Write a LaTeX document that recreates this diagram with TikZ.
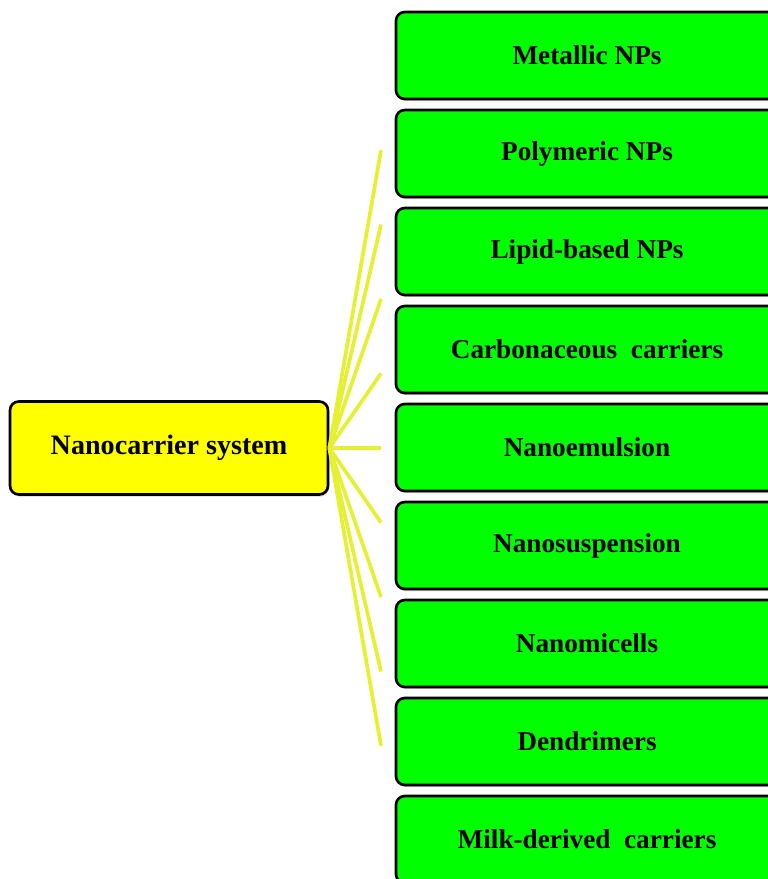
\documentclass[tikz,border=0pt]{standalone}
\usepackage{fontspec}
\setmainfont{Liberation Serif}
\usetikzlibrary{shadows}
\definecolor{boxgreen}{HTML}{00FF00}
\definecolor{boxyellow}{HTML}{FFFF00}
\definecolor{linkyellow}{HTML}{E6F032}
\tikzset{
  root/.style={rounded corners=5pt,draw=black,line width=1.5pt,fill=boxyellow,minimum width=6.36cm,minimum height=1.86cm,font=\bfseries\fontsize{16}{19}\selectfont,drop shadow={shadow xshift=0.6pt,shadow yshift=-1.2pt,opacity=0.35}},
  kind/.style={rounded corners=5pt,draw=black,line width=1.5pt,fill=boxgreen,minimum width=7.64cm,minimum height=1.74cm,font=\bfseries\fontsize{15.5}{18}\selectfont,drop shadow={shadow xshift=0.6pt,shadow yshift=-1.2pt,opacity=0.35}},
  spoke/.style={draw=linkyellow,line width=2.1pt}
}
\begin{document}
\begin{tikzpicture}[x=1cm,y=1cm]
\clip (0,0) rectangle (15.36,17.58);
\fill[white] (0,0) rectangle (15.36,17.58);
% root box
\node[root] (nano) at (3.38,8.62) {Nanocarrier system};
% carrier types
\node[kind] (metal) at (11.74,16.47) {Metallic NPs};
\node[kind] (poly) at (11.74,14.51) {Polymeric NPs};
\node[kind] (lipid) at (11.74,12.55) {Lipid-based NPs};
\node[kind] (carbon) at (11.74,10.59) {Carbonaceous\ \ carriers};
\node[kind] (emul) at (11.74,8.63) {Nanoemulsion};
\node[kind] (susp) at (11.74,6.67) {Nanosuspension};
\node[kind] (micel) at (11.74,4.71) {Nanomicells};
\node[kind] (dend) at (11.74,2.75) {Dendrimers};
\node[kind] (milk) at (11.74,0.79) {Milk-derived\ \ carriers};
% free ends of the spokes
\coordinate (e1) at (7.62,14.58); \coordinate (e2) at (7.62,13.09); \coordinate (e3) at (7.62,11.60);
\coordinate (e4) at (7.62,10.11); \coordinate (e5) at (7.62,8.62); \coordinate (e6) at (7.62,7.13);
\coordinate (e7) at (7.62,5.64); \coordinate (e8) at (7.62,4.15); \coordinate (e9) at (7.62,2.66);
\draw[spoke] (nano.east)--(e1); \draw[spoke] (nano.east)--(e2); \draw[spoke] (nano.east)--(e3);
\draw[spoke] (nano.east)--(e4); \draw[spoke] (nano.east)--(e5); \draw[spoke] (nano.east)--(e6);
\draw[spoke] (nano.east)--(e7); \draw[spoke] (nano.east)--(e8); \draw[spoke] (nano.east)--(e9);
\end{tikzpicture}
\end{document}
